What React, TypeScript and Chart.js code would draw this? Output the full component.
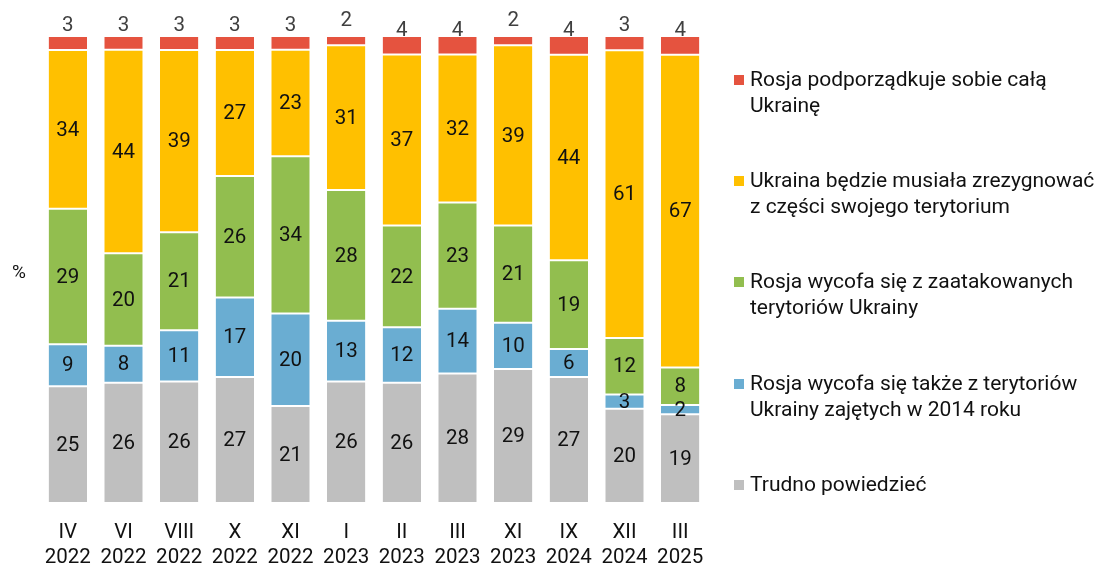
import React, { useEffect, useRef } from "react";
import { Chart, registerables } from "chart.js";

Chart.register(...registerables);

const categories: string[][] = [
  ["IV", "2022"], ["VI", "2022"], ["VIII", "2022"], ["X", "2022"], ["XI", "2022"], ["I", "2023"],
  ["II", "2023"], ["III", "2023"], ["XI", "2023"], ["IX", "2024"], ["XII", "2024"], ["III", "2025"],
];

const trudno = [25, 26, 26, 27, 21, 26, 26, 28, 29, 27, 20, 19];
const wycofaTakze = [9, 8, 11, 17, 20, 13, 12, 14, 10, 6, 3, 2];
const wycofaZaatak = [29, 20, 21, 26, 34, 28, 22, 23, 21, 19, 12, 8];
const zrezygnowac = [34, 44, 39, 27, 23, 31, 37, 32, 39, 44, 61, 67];
const podporzadkuje = [3, 3, 3, 3, 3, 2, 4, 4, 2, 4, 3, 4];

const seriesNames = [
  "Trudno powiedzieć",
  "Rosja wycofa się także z terytoriów Ukrainy zajętych w 2014 roku",
  "Rosja wycofa się z zaatakowanych terytoriów Ukrainy",
  "Ukraina będzie musiała zrezygnować z części swojego terytorium",
  "Rosja podporządkuje sobie całą Ukrainę",
];

const legendLines: string[][] = [
  ["Rosja podporządkuje sobie całą", "Ukrainę"],
  ["Ukraina będzie musiała zrezygnować", "z części swojego terytorium"],
  ["Rosja wycofa się z zaatakowanych", "terytoriów Ukrainy"],
  ["Rosja wycofa się także z terytoriów", "Ukrainy zajętych w 2014 roku"],
  ["Trudno powiedzieć"],
];

const colors = ["#BFBFBF", "#6AADD2", "#92BE4F", "#FFC000", "#E5533F"];
const FONT = "Roboto, 'Noto Sans', sans-serif";

export default function App() {
  const ref = useRef<HTMLCanvasElement | null>(null);

  useEffect(() => {
    if (!ref.current) return;
    const raw = [trudno, wycofaTakze, wycofaZaatak, zrezygnowac, podporzadkuje];
    const totals = categories.map((_, i) => raw.reduce((s, arr) => s + arr[i], 0));
    const datasets = raw.map((arr, k) => ({
      label: seriesNames[k],
      data: arr.map((v, i) => (v / totals[i]) * 100),
      rawValues: arr,
      backgroundColor: colors[k],
      borderColor: "#FFFFFF",
      borderWidth: { top: 1, bottom: 1, left: 0, right: 0 },
      borderSkipped: false,
      barPercentage: 0.69,
      categoryPercentage: 1,
    }));

    const labelsPlugin = {
      id: "customLabels",
      afterDatasetsDraw(chart: any) {
        const ctx = chart.ctx;
        ctx.save();
        ctx.font = `20.5px ${FONT}`;
        ctx.textAlign = "center";
        ctx.textBaseline = "middle";
        chart.data.datasets.forEach((ds: any, k: number) => {
          const meta = chart.getDatasetMeta(k);
          meta.data.forEach((el: any, i: number) => {
            const v = ds.rawValues[i];
            if (k === chart.data.datasets.length - 1) {
              ctx.fillStyle = "#404040";
              ctx.fillText(String(v), el.x, el.base - 24);
            } else {
              ctx.fillStyle = "#111111";
              ctx.fillText(String(v), el.x, (el.y + el.base) / 2 + 1);
            }
          });
        });
        ctx.restore();
      },
      afterDraw(chart: any) {
        const ctx = chart.ctx;
        ctx.save();
        ctx.font = `19px ${FONT}`;
        ctx.textBaseline = "middle";
        ctx.textAlign = "left";
        ctx.fillStyle = "#111111";
        ctx.fillText("%", 12, 273);
        const legendColors = [colors[4], colors[3], colors[2], colors[1], colors[0]];
        const starts = [81, 182, 283, 385, 486];
        legendLines.forEach((lines, idx) => {
          const y0 = starts[idx];
          ctx.fillStyle = legendColors[idx];
          ctx.fillRect(734, y0 - 6, 10, 10);
          ctx.fillStyle = "#111111";
          ctx.font = `21px ${FONT}`;
          lines.forEach((t, j) => ctx.fillText(t, 750, y0 + j * 25.5));
        });
        ctx.restore();
      },
    };

    const chart = new Chart(ref.current, {
      type: "bar",
      data: { labels: categories, datasets: datasets as any },
      options: {
        animation: false,
        responsive: true,
        maintainAspectRatio: false,
        layout: { padding: { left: 40, right: 394, top: 36, bottom: 0 } },
        plugins: { legend: { display: false }, tooltip: { enabled: false } },
        scales: {
          x: {
            stacked: true,
            grid: { display: false, drawTicks: false },
            border: { display: false },
            afterFit: (scale: any) => {
              scale.height = 62;
            },
            ticks: {
              color: "#111111",
              font: { family: FONT, size: 20.5, lineHeight: 1.22 },
              padding: 17.5,
              maxRotation: 0,
              autoSkip: false,
            },
          },
          y: { stacked: true, display: false, min: 0, max: 100 },
        },
      },
      plugins: [labelsPlugin],
    });
    return () => chart.destroy();
  }, []);

  return (
    <div style={{ position: "fixed", left: 0, top: 0, width: 1102, height: 565, background: "#fff" }}>
      <canvas ref={ref} />
    </div>
  );
}
